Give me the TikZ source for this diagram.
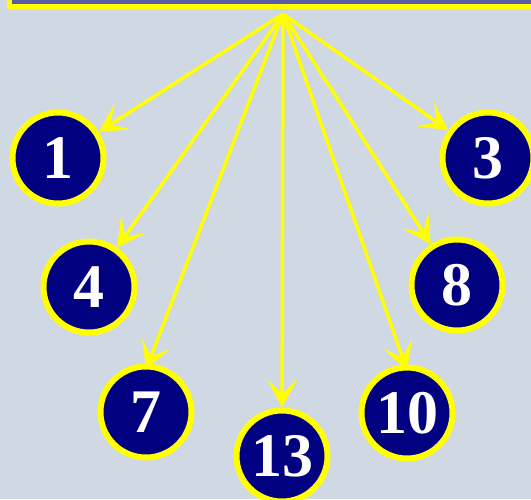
\documentclass[tikz,border=0pt]{standalone}
\usepackage{fontspec}
\setmainfont{Liberation Serif}
\usetikzlibrary{arrows.meta}
\definecolor{bgblue}{HTML}{D0D8E4}
\definecolor{boxblue}{HTML}{5A5AAA}
\definecolor{navy}{HTML}{000080}
\definecolor{ylw}{HTML}{FFFF00}
\begin{document}
\begin{tikzpicture}[x=1pt, y=-1pt,
  every node/.style={circle, fill=navy, draw=ylw, line width=6pt, minimum size=91pt, inner sep=0pt, text=white, font=\bfseries\fontsize{62}{62}\selectfont},
  arr/.style={ylw, line width=3.5pt, -{Stealth[length=28pt, width=30pt, inset=14pt]}}]

	\useasboundingbox (0,0) rectangle (531,499);
	\fill[bgblue] (0,0) rectangle (531,499);
	\draw[fill=boxblue, draw=ylw, line width=5pt] (9,-10) rectangle (545,6);

	\coordinate (src) at (283,14);
	\node (n1) at (58,158) {1};
	\node (n3) at (488,158) {3};
	\node (n4) at (89,287) {4};
	\node (n8) at (457,285) {8};
	\node (n7) at (146,412) {7};
	\node (n10) at (407,413) {10};
	\node (n13) at (282,456) {13};
	\draw[arr] (src) -- (n1);
	\draw[arr] (src) -- (n4);
	\draw[arr] (src) -- ([yshift=-6pt]n7.north);
	\draw[arr] (src) -- (n13);
	\draw[arr] (src) -- ([yshift=-6pt]n10.north);
	\draw[arr] (src) -- (n8);
	\draw[arr] (src) -- (n3);
\end{tikzpicture}
\end{document}
